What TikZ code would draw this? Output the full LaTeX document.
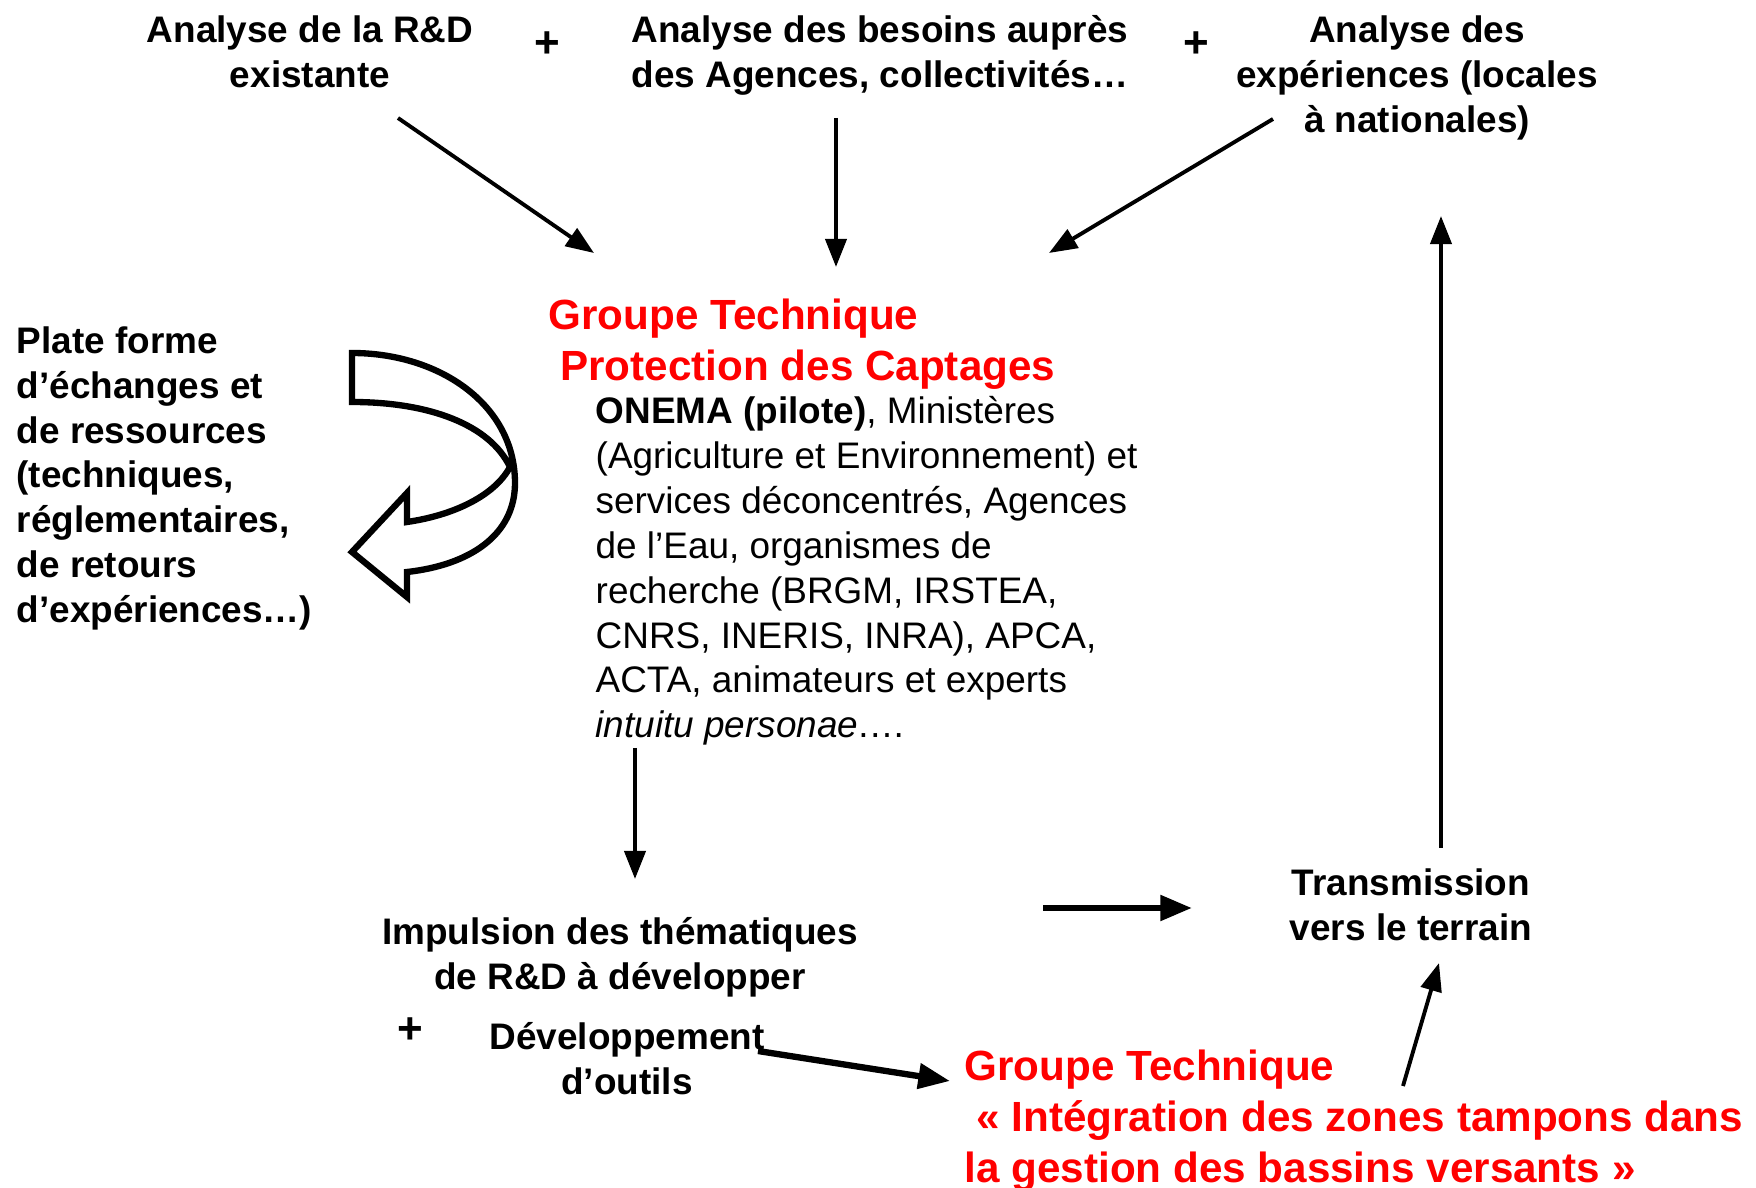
\documentclass[tikz,border=0pt]{standalone}
\usepackage{fontspec}
\setmainfont{Liberation Sans}
\usetikzlibrary{arrows.meta}

\begin{document}
\begin{tikzpicture}[x=0.01cm,y=-0.01cm,
    every node/.style={inner sep=0pt},
    txt/.style={font=\fontsize{10.5}{12.75}\selectfont\bfseries, align=center},
    lefttxt/.style={font=\fontsize{10.5}{12.75}\selectfont\bfseries, align=left, anchor=north west},
    body/.style={font=\fontsize{10.5}{12.75}\selectfont, align=left, anchor=north west},
    gtitle/.style={font=\fontsize{12}{14.6}\selectfont\bfseries, text=red, align=left, anchor=north west},
    plus/.style={font=\fontsize{12.5}{14}\selectfont\bfseries},
    arr/.style={-{Triangle[length=8pt,width=6pt]}, line width=1.1pt},
    bigarr/.style={-{Triangle[length=9pt,width=7pt]}, line width=1.8pt},
  ]
  \useasboundingbox (0,0) rectangle (1756,1188);

  % top row
  \node[txt] (rd) at (310,52) {Analyse de la R\&D\\existante};
  \node[plus] (p1) at (547,45) {+};
  \node[txt] (besoins) at (880,55) {Analyse des besoins auprès\\des Agences, collectivités…};
  \node[plus] (p2) at (1196,45) {+};
  \node[txt] (exper) at (1417,78) {Analyse des\\expériences (locales\\à nationales)};

  % groupe technique
  \node[gtitle] (gtpc) at (548,298) {Groupe Technique\\~Protection des Captages};
  \node[body] (membres) at (595,396) {\textbf{ONEMA (pilote)}, Ministères\\(Agriculture et Environnement) et\\services déconcentrés, Agences\\de l’Eau, organismes de\\recherche (BRGM, IRSTEA,\\CNRS, INERIS, INRA), APCA,\\ACTA, animateurs et experts\\\textit{intuitu personae}.…};
  \node[lefttxt] (plate) at (16,326) {Plate forme\\d’échanges et\\de ressources\\(techniques,\\réglementaires,\\de retours\\d’expériences…)};

  % bottom
  \node[txt] (impulsion) at (620,957) {Impulsion des thématiques\\de R\&D à développer};
  \node[plus] (p3) at (410,1031) {+};
  \node[txt] (outils) at (627,1059) {Développement\\d’outils};
  \node[txt] (transm) at (1411,905) {Transmission\\vers le terrain};
  \node[gtitle] (gtzt) at (964,1049) {Groupe Technique\\~« Intégration des zones tampons dans\\la gestion des bassins versants »};

  % curved arrow
  \draw[line width=1.8pt, fill=white, line join=miter]
    (352,353) .. controls (440,353) and (515,405) .. (515,483)
    .. controls (515,535) and (470,565) .. (407,572)
    -- (407,597) -- (352,552) -- (407,493) -- (407,522)
    .. controls (455,515) and (495,495) .. (510,467)
    .. controls (490,425) and (430,402) .. (352,402) -- cycle;

  % arrow ends
  \coordinate (a1) at (398,118);  \coordinate (a2) at (594,253);
  \coordinate (b1) at (836,118);  \coordinate (b2) at (836,267);
  \coordinate (c1) at (1273,119); \coordinate (c2) at (1049,253);
  \coordinate (d1) at (635,748);  \coordinate (d2) at (635,879);
  \coordinate (e1) at (1043,908); \coordinate (e2) at (1192,908);
  \coordinate (f1) at (1441,848); \coordinate (f2) at (1441,216);
  \coordinate (g1) at (1403,1086); \coordinate (g2) at (1439,963);
  \coordinate (h1) at (758,1051); \coordinate (h2) at (950,1081);

  \draw[arr] (a1) -- (a2);
  \draw[arr] (b1) -- (b2);
  \draw[arr] (c1) -- (c2);
  \draw[arr] (d1) -- (d2);
  \draw[bigarr] (e1) -- (e2);
  \draw[arr] (f1) -- (f2);
  \draw[arr] (g1) -- (g2);
  \draw[bigarr] (h1) -- (h2);
\end{tikzpicture}
\end{document}
